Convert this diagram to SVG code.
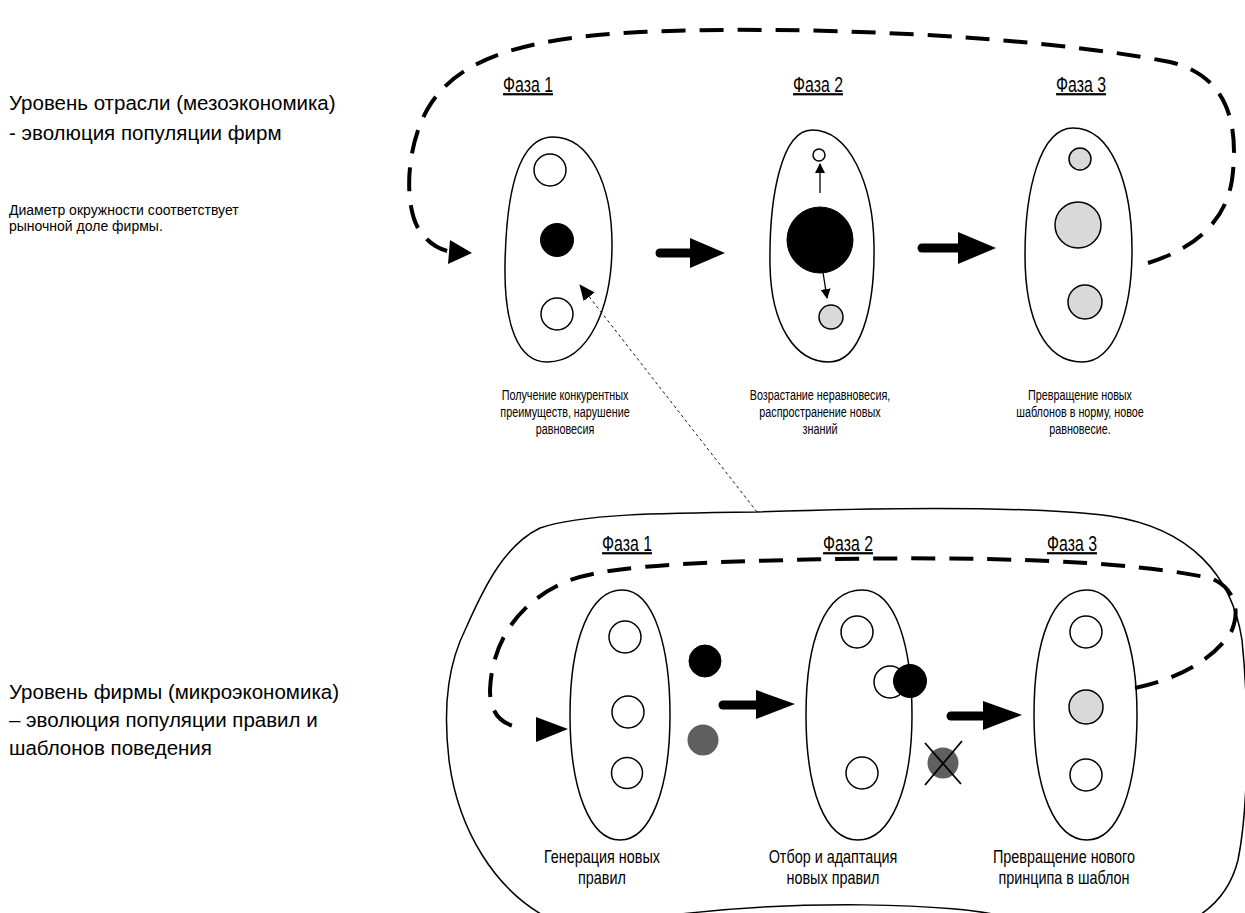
<svg xmlns="http://www.w3.org/2000/svg" width="1245" height="913" viewBox="0 0 1245 913">
  <style>
    .lbl { font-family: "Liberation Sans", Arial, sans-serif; fill: #000; }
    .big { font-size: 20.5px; }
    .small { font-size: 14px; }
    .phase { font-size: 22px; text-decoration: underline; text-anchor: middle; }
    .cap { font-size: 15px; text-anchor: middle; }
    .cap2 { font-size: 18px; text-anchor: middle; }
    .blob { fill: #fff; stroke: #000; stroke-width: 1.5; }
    .c-white { fill: #fff; stroke: #000; stroke-width: 1.5; }
    .c-black { fill: #000; stroke: #000; stroke-width: 1; }
    .c-gray { fill: #d9d9d9; stroke: #000; stroke-width: 1.5; }
    .c-dark { fill: #5f5f5f; stroke: none; }
    .loop { fill: none; stroke: #000; stroke-width: 4; stroke-dasharray: 24 14; }
    .shaft { fill: none; stroke: #000; stroke-width: 9; stroke-linecap: round; }
  </style>
  <defs>
    <marker id="tinyHead" markerWidth="10" markerHeight="10" refX="9" refY="5" orient="auto" markerUnits="userSpaceOnUse">
      <path d="M0,0 L10,5 L0,10 Z" fill="#000"/>
    </marker>
    <marker id="dashHead" markerWidth="16" markerHeight="14" refX="15" refY="7" orient="auto" markerUnits="userSpaceOnUse">
      <path d="M0,0 L16,7 L0,14 Z" fill="#000"/>
    </marker>
  </defs>

  <!-- left-hand annotations -->
  <g id="label-meso">
    <text class="lbl big" x="9" y="110">Уровень отрасли (мезоэкономика)</text>
    <text class="lbl big" x="9" y="140">- эволюция популяции фирм</text>
  </g>
  <g id="label-note">
    <text class="lbl small" x="9" y="215">Диаметр окружности соответствует</text>
    <text class="lbl small" x="9" y="231">рыночной доле фирмы.</text>
  </g>
  <g id="label-micro">
    <text class="lbl big" x="9" y="699">Уровень фирмы (микроэкономика)</text>
    <text class="lbl big" x="9" y="727">– эволюция популяции правил и</text>
    <text class="lbl big" x="9" y="755">шаблонов поведения</text>
  </g>

  <!-- outer enclosure of the firm-level cycle -->
  <g id="firm-boundary">
    <path class="blob" stroke-width="1.2" d="M757,512 C870,508 1020,505 1110,516 C1190,528 1232,575 1242,640 C1250,720 1248,810 1238,860 C1230,892 1212,908 1195,918 L1010,918 C960,903 790,898 650,918 L548,918 C495,890 458,830 449,760 C442,700 450,660 466,628 C485,585 505,545 540,528 C580,514 660,513 757,512 Z"/>
  </g>

  <!-- industry level, phase 1 -->
  <g id="ind-phase1">
    <text class="lbl phase" transform="translate(528,92) scale(0.72,1)">Фаза 1</text>
    <path class="blob" d="M553,137 C590,137 612,185 612,245 C612,305 590,362 547,362 C518,362 504,325 505,265 C506,205 515,137 553,137 Z"/>
    <circle class="c-white" cx="550" cy="170" r="16"/>
    <circle class="c-black" cx="557" cy="240" r="16.5"/>
    <circle class="c-white" cx="557" cy="314" r="16"/>
    <g transform="translate(565,0) scale(0.72,1)">
      <text class="lbl cap" x="0" y="400">Получение конкурентных</text>
      <text class="lbl cap" x="0" y="417">преимуществ, нарушение</text>
      <text class="lbl cap" x="0" y="434">равновесия</text>
    </g>
  </g>

  <!-- industry level, phase 2 -->
  <g id="ind-phase2">
    <text class="lbl phase" transform="translate(818,92) scale(0.72,1)">Фаза 2</text>
    <path class="blob" d="M812,130 C850,130 873,185 874,245 C875,310 860,362 829,362 C795,362 771,325 770,265 C769,195 782,130 812,130 Z"/>
    <circle class="c-white" cx="819" cy="155" r="6"/>
    <circle class="c-black" cx="820" cy="240" r="33"/>
    <circle class="c-gray" cx="831" cy="317" r="12"/>
    <g transform="translate(820,0) scale(0.72,1)">
      <text class="lbl cap" x="0" y="400">Возрастание неравновесия,</text>
      <text class="lbl cap" x="0" y="417">распространение новых</text>
      <text class="lbl cap" x="0" y="434">знаний</text>
    </g>
  </g>

  <!-- industry level, phase 3 -->
  <g id="ind-phase3">
    <text class="lbl phase" transform="translate(1081,92) scale(0.72,1)">Фаза 3</text>
    <path class="blob" d="M1073,128 C1112,128 1132,185 1132,250 C1132,310 1115,362 1082,362 C1045,362 1025,320 1025,255 C1025,190 1040,128 1073,128 Z"/>
    <circle class="c-gray" cx="1080" cy="159" r="11"/>
    <circle class="c-gray" cx="1078" cy="225" r="23"/>
    <circle class="c-gray" cx="1085" cy="302" r="17"/>
    <g transform="translate(1080,0) scale(0.72,1)">
      <text class="lbl cap" x="0" y="400">Превращение новых</text>
      <text class="lbl cap" x="0" y="417">шаблонов в норму, новое</text>
      <text class="lbl cap" x="0" y="434">равновесие.</text>
    </g>
  </g>

  <!-- firm level, phase 1 -->
  <g id="firm-phase1">
    <text class="lbl phase" transform="translate(627,551) scale(0.72,1)">Фаза 1</text>
    <path class="blob" d="M622,590 C655,590 670,650 670,715 C670,790 650,840 620,840 C590,840 570,790 570,715 C570,640 590,590 622,590 Z"/>
    <circle class="c-white" cx="625" cy="637" r="16"/>
    <circle class="c-white" cx="628" cy="712" r="16"/>
    <circle class="c-white" cx="627" cy="773" r="15.5"/>
    <circle class="c-black" cx="705" cy="661" r="16"/>
    <circle class="c-dark" cx="703" cy="740" r="15.5"/>
    <g transform="translate(602,0) scale(0.8,1)">
      <text class="lbl cap2" x="0" y="863">Генерация новых</text>
      <text class="lbl cap2" x="0" y="884">правил</text>
    </g>
  </g>

  <!-- firm level, phase 2 -->
  <g id="firm-phase2">
    <text class="lbl phase" transform="translate(848,551) scale(0.72,1)">Фаза 2</text>
    <path class="blob" d="M862,590 C897,590 912,650 912,715 C912,790 890,840 858,840 C825,840 806,790 806,715 C806,640 825,590 862,590 Z"/>
    <circle class="c-white" cx="857" cy="632" r="16"/>
    <circle class="c-white" cx="890" cy="682" r="16"/>
    <circle class="c-black" cx="910" cy="681" r="16.5"/>
    <circle class="c-white" cx="862" cy="773" r="16"/>
    <g transform="translate(833,0) scale(0.8,1)">
      <text class="lbl cap2" x="0" y="863">Отбор и адаптация</text>
      <text class="lbl cap2" x="0" y="884">новых правил</text>
    </g>
  </g>

  <!-- rejected rule -->
  <g id="firm-rejected">
    <circle class="c-dark" cx="943" cy="763" r="15.5"/>
    <path d="M925,785 L962,741 M925,743 L961,784" stroke="#000" stroke-width="1.8"/>
  </g>

  <!-- firm level, phase 3 -->
  <g id="firm-phase3">
    <text class="lbl phase" transform="translate(1072,551) scale(0.72,1)">Фаза 3</text>
    <path class="blob" d="M1087,590 C1120,590 1137,650 1137,715 C1137,790 1118,840 1087,840 C1055,840 1034,790 1034,715 C1034,640 1052,590 1087,590 Z"/>
    <circle class="c-white" cx="1086" cy="632" r="16"/>
    <circle class="c-gray" cx="1086" cy="707" r="17"/>
    <circle class="c-white" cx="1086" cy="775" r="16"/>
    <g transform="translate(1064,0) scale(0.8,1)">
      <text class="lbl cap2" x="0" y="863">Превращение нового</text>
      <text class="lbl cap2" x="0" y="884">принципа в шаблон</text>
    </g>
  </g>

  <!-- connectors -->
  <g id="connectors">
    <!-- industry-level cycle -->
    <path class="loop" d="M1148,263 C1190,250 1225,225 1232,180 C1240,120 1225,75 1170,62 C1030,35 800,25 640,32 C520,38 455,60 427,110 C405,150 405,205 418,228 C428,244 440,250 452,252"/>
    <path d="M450,240 L472,253 L448,264 Z" fill="#000"/>
    <!-- firm-level cycle -->
    <path class="loop" d="M1135,688 C1175,680 1215,660 1232,630 C1242,605 1230,585 1210,578 C1100,555 900,556 720,562 C640,566 600,570 570,580 C520,600 492,640 490,690 C490,712 500,722 513,726"/>
    <path d="M536,717 L568,729 L536,742 Z" fill="#000"/>
    <!-- phase transitions, industry level -->
    <path class="shaft" d="M660,253 L692,253"/>
    <path d="M690,238 L725,253 L690,268 Z" fill="#000"/>
    <path class="shaft" d="M922,248 L960,248"/>
    <path d="M958,232 L996,248 L958,264 Z" fill="#000"/>
    <!-- phase transitions, firm level -->
    <path class="shaft" d="M723,705 L758,705"/>
    <path d="M756,690 L795,704 L756,719 Z" fill="#000"/>
    <path class="shaft" d="M951,716 L985,716"/>
    <path d="M983,701 L1022,715 L983,730 Z" fill="#000"/>
    <!-- spreading within phase 2 -->
    <path d="M820,193 L820,164" stroke="#000" stroke-width="1.3" marker-end="url(#tinyHead)"/>
    <path d="M822,266 L827,298" stroke="#000" stroke-width="1.3" marker-end="url(#tinyHead)"/>
    <!-- link between the two levels -->
    <path d="M757,512 L580,285" stroke="#000" stroke-width="0.9" stroke-dasharray="3 3" fill="none" marker-end="url(#dashHead)"/>
  </g>
</svg>
